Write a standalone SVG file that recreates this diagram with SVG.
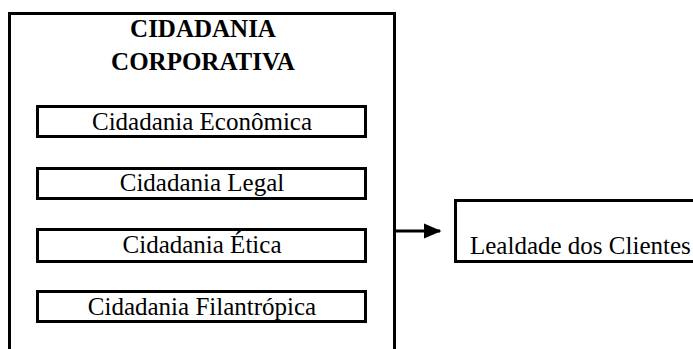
<svg xmlns="http://www.w3.org/2000/svg" width="693" height="349" viewBox="0 0 693 349">
  <style>
    .box { fill: #fff; stroke: #000; stroke-width: 3; }
    .frame { fill: none; stroke: #000; stroke-width: 3; }
    .lbl { font-family: "Liberation Serif", "Times New Roman", serif; font-size: 25px; fill: #000; }
    .title { font-family: "Liberation Serif", "Times New Roman", serif; font-size: 25px; font-weight: bold; fill: #000; }
  </style>
  <defs>
    <marker id="arrow" markerWidth="6" markerHeight="6" refX="5.5" refY="3" orient="auto" markerUnits="strokeWidth">
      <path d="M0,0.4 L6,3 L0,5.6 Z" fill="#000"/>
    </marker>
  </defs>
  <rect width="693" height="349" fill="#fff"/>

  <!-- Corporate citizenship container (open at the bottom) -->
  <g id="cidadania-corporativa">
    <path class="frame" d="M9.5,349 V13.5 H394.5 V349"/>
    <text class="title" x="203" y="37" text-anchor="middle">CIDADANIA</text>
    <text class="title" x="203" y="70" text-anchor="middle">CORPORATIVA</text>
  </g>

  <g id="economica">
    <rect class="box" x="37.5" y="106.5" width="328" height="30"/>
    <text class="lbl" x="202" y="130" text-anchor="middle">Cidadania Econômica</text>
  </g>

  <g id="legal">
    <rect class="box" x="37.5" y="168.5" width="328" height="30"/>
    <text class="lbl" x="202" y="191" text-anchor="middle">Cidadania Legal</text>
  </g>

  <g id="etica">
    <rect class="box" x="37.5" y="229.5" width="328" height="32"/>
    <text class="lbl" x="202" y="253" text-anchor="middle">Cidadania Ética</text>
  </g>

  <g id="filantropica">
    <rect class="box" x="37.5" y="291.5" width="328" height="30"/>
    <text class="lbl" x="202" y="315" text-anchor="middle">Cidadania Filantrópica</text>
  </g>

  <g id="lealdade">
    <rect class="box" x="455.5" y="200.5" width="260" height="61"/>
    <text class="lbl" x="470" y="254">Lealdade dos Clientes</text>
  </g>

  <g id="connectors">
    <line x1="394.5" y1="231" x2="440" y2="231" stroke="#000" stroke-width="3" marker-end="url(#arrow)"/>
  </g>
</svg>
